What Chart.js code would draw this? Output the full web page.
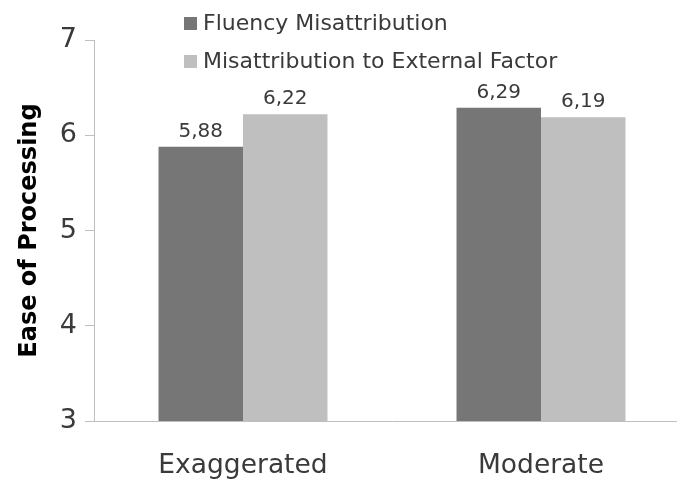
<!DOCTYPE html>
<html lang="en">
<head>
  <meta charset="UTF-8">
  <title>Ease of Processing</title>
  <script src="https://cdn.jsdelivr.net/npm/chart.js"></script>
  <style>
    body { margin: 0; background: #fff; }
    #wrap { width: 677px; height: 481px; overflow: hidden; }
  </style>
</head>
<body>
  <div id="wrap">
    <canvas id="easeChart" width="700" height="481"></canvas>
  </div>

  <script>
    const categories = ['Exaggerated', 'Moderate'];
    const seriesNames = ['Fluency Misattribution', 'Misattribution to External Factor'];
    const fluencyValues = [5.88, 6.29];
    const externalValues = [6.22, 6.19];
    const yTicks = [3, 4, 5, 6, 7];

    const textColor = '#3a3a3a';
    const fontFamily = '"DejaVu Sans", sans-serif';

    // legend drawn as a stacked list at top left, like the original
    const stackedLegend = {
      id: 'stackedLegend',
      afterDraw(chart) {
        const ctx = chart.ctx;
        ctx.save();
        ctx.font = '22px ' + fontFamily;
        ctx.textBaseline = 'middle';
        chart.data.datasets.forEach((ds, i) => {
          const y = 23 + i * 38;
          ctx.fillStyle = ds.backgroundColor;
          ctx.fillRect(184, y - 6, 13, 13);
          ctx.fillStyle = textColor;
          ctx.fillText(ds.label, 203, y + 1);
        });
        ctx.restore();
      }
    };

    // value labels above each bar, decimal comma
    const valueLabels = {
      id: 'valueLabels',
      afterDatasetsDraw(chart) {
        const ctx = chart.ctx;
        ctx.save();
        ctx.font = '20px ' + fontFamily;
        ctx.fillStyle = textColor;
        ctx.textAlign = 'center';
        ctx.textBaseline = 'alphabetic';
        chart.data.datasets.forEach((ds, i) => {
          chart.getDatasetMeta(i).data.forEach((bar, j) => {
            const txt = ds.data[j].toFixed(2).replace('.', ',');
            ctx.fillText(txt, bar.x, bar.y - 10);
          });
        });
        ctx.restore();
      }
    };

    new Chart(document.getElementById('easeChart'), {
      type: 'bar',
      data: {
        labels: categories,
        datasets: [
          { label: seriesNames[0], data: fluencyValues, backgroundColor: '#767676' },
          { label: seriesNames[1], data: externalValues, backgroundColor: '#bfbfbf' }
        ]
      },
      options: {
        responsive: false,
        animation: false,
        layout: { padding: { top: 40, right: 10, left: 0, bottom: 0 } },
        datasets: {
          bar: { categoryPercentage: 0.567, barPercentage: 1.0 }
        },
        scales: {
          x: {
            afterFit: (scale) => { scale.height = 60; },
            grid: { display: false },
            border: { display: true, color: '#bfbfbf', width: 1 },
            ticks: {
              color: textColor,
              padding: 21,
              font: { family: fontFamily, size: 26.5 }
            }
          },
          y: {
            min: yTicks[0],
            max: yTicks[yTicks.length - 1],
            afterBuildTicks: (scale) => { scale.ticks = yTicks.map(v => ({ value: v })); },
            afterFit: (scale) => { scale.width = 94; },
            grid: { drawOnChartArea: false, drawTicks: true, tickLength: 9, color: '#bfbfbf' },
            border: { display: true, color: '#bfbfbf', width: 1 },
            ticks: {
              color: textColor,
              padding: 8,
              font: { family: fontFamily, size: 27 }
            },
            title: {
              display: true,
              text: 'Ease of Processing',
              color: '#000',
              padding: { top: 15, bottom: 0 },
              font: { family: fontFamily, size: 24, weight: 'bold' }
            }
          }
        },
        plugins: {
          legend: { display: false },
          tooltip: { enabled: false }
        }
      },
      plugins: [stackedLegend, valueLabels]
    });
  </script>
</body>
</html>
